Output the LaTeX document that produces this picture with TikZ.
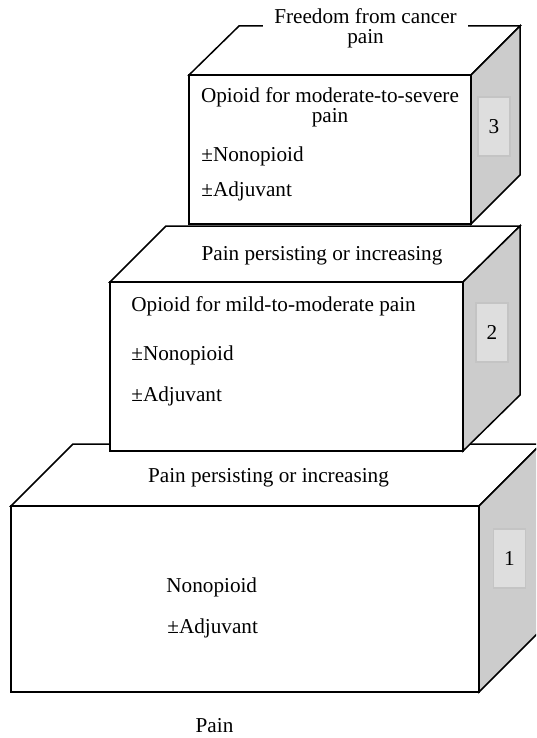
\documentclass[tikz,border=0pt]{standalone}
\usepackage{fontspec}
\setmainfont{Liberation Serif}
\definecolor{sidegray}{RGB}{204,204,204}
\definecolor{numfill}{RGB}{222,222,222}
\definecolor{numborder}{RGB}{196,196,196}
\tikzset{
  face/.style={draw=black, line width=0.75pt, fill=white, line join=miter},
  sideface/.style={face, fill=sidegray},
  numbox/.style={draw=numborder, fill=numfill, line width=0.6pt, minimum width=16pt, minimum height=29.5pt, inner sep=0pt, font=\txt},
  lbl/.style={inner sep=0pt, font=\txt},
}
\newcommand{\txt}{\fontsize{10.6}{10}\selectfont}
\begin{document}
\begin{tikzpicture}[x=0.5pt,y=-0.5pt]
\useasboundingbox (0,0) rectangle (536,738);
\clip (0,0) rectangle (536,738);
% ---------- box 1 (bottom) ----------
\coordinate (b1ftl) at (11,506);
\coordinate (b1ftr) at (479,506);
\coordinate (b1fbr) at (479,692);
\coordinate (b1fbl) at (11,692);
\coordinate (b1btl) at (73,444);
\coordinate (b1btr) at (541,444);
\coordinate (b1bbr) at (541,630);
\draw[face] (b1ftl) -- (b1btl) -- (b1btr) -- (b1ftr) -- cycle;
\draw[sideface] (b1ftr) -- (b1btr) -- (b1bbr) -- (b1fbr) -- cycle;
\draw[face] (b1ftl) rectangle (b1fbr);
\node[numbox] (n1) at (509.5,558.5) {1};
% ---------- box 2 (middle) ----------
\coordinate (b2ftl) at (110,282);
\coordinate (b2ftr) at (463,282);
\coordinate (b2fbr) at (463,451);
\coordinate (b2fbl) at (110,451);
\coordinate (b2btl) at (166,226);
\coordinate (b2btr) at (520,226);
\coordinate (b2bbr) at (520,395);
\draw[face] (b2ftl) -- (b2btl) -- (b2btr) -- (b2ftr) -- cycle;
\draw[sideface] (b2ftr) -- (b2btr) -- (b2bbr) -- (b2fbr) -- cycle;
\draw[face] (b2ftl) rectangle (b2fbr);
\node[numbox] (n2) at (492,332.5) {2};
% ---------- box 3 (top) ----------
\coordinate (b3ftl) at (189,75);
\coordinate (b3ftr) at (471,75);
\coordinate (b3fbr) at (471,224);
\coordinate (b3fbl) at (189,224);
\coordinate (b3btl) at (239,26);
\coordinate (b3btr) at (520,26);
\coordinate (b3bbr) at (520,175);
\draw[face] (b3ftl) -- (b3btl) -- (b3btr) -- (b3ftr) -- cycle;
\draw[sideface] (b3ftr) -- (b3btr) -- (b3bbr) -- (b3fbr) -- cycle;
\draw[face] (b3ftl) rectangle (b3fbr);
\node[numbox] (n3) at (494,126.5) {3};
% ---------- texts ----------
\node[lbl, fill=white, inner xsep=5.5pt, align=center, anchor=north] (goal) at (365.5,8) {Freedom from cancer\\pain};
\node[lbl, align=center, anchor=north] (t3a) at (330,87) {Opioid for moderate-to-severe\\pain};
\node[lbl, anchor=base west] (t3b) at (201,161.7) {±Nonopioid};
\node[lbl, anchor=base west] (t3c) at (201,196.7) {±Adjuvant};
\node[lbl, anchor=base] (p2) at (322,260) {Pain persisting or increasing};
\node[lbl, anchor=base west] (t2a) at (131,311.7) {Opioid for mild-to-moderate pain};
\node[lbl, anchor=base west] (t2b) at (131,360) {±Nonopioid};
\node[lbl, anchor=base west] (t2c) at (131,401.7) {±Adjuvant};
\node[lbl, anchor=base] (p1) at (268.5,482) {Pain persisting or increasing};
\node[lbl, anchor=base west] (t1a) at (166,592) {Nonopioid};
\node[lbl, anchor=base west] (t1b) at (167,633) {±Adjuvant};
\node[lbl, anchor=base] (pain) at (214.5,732) {Pain};
\end{tikzpicture}
\end{document}
